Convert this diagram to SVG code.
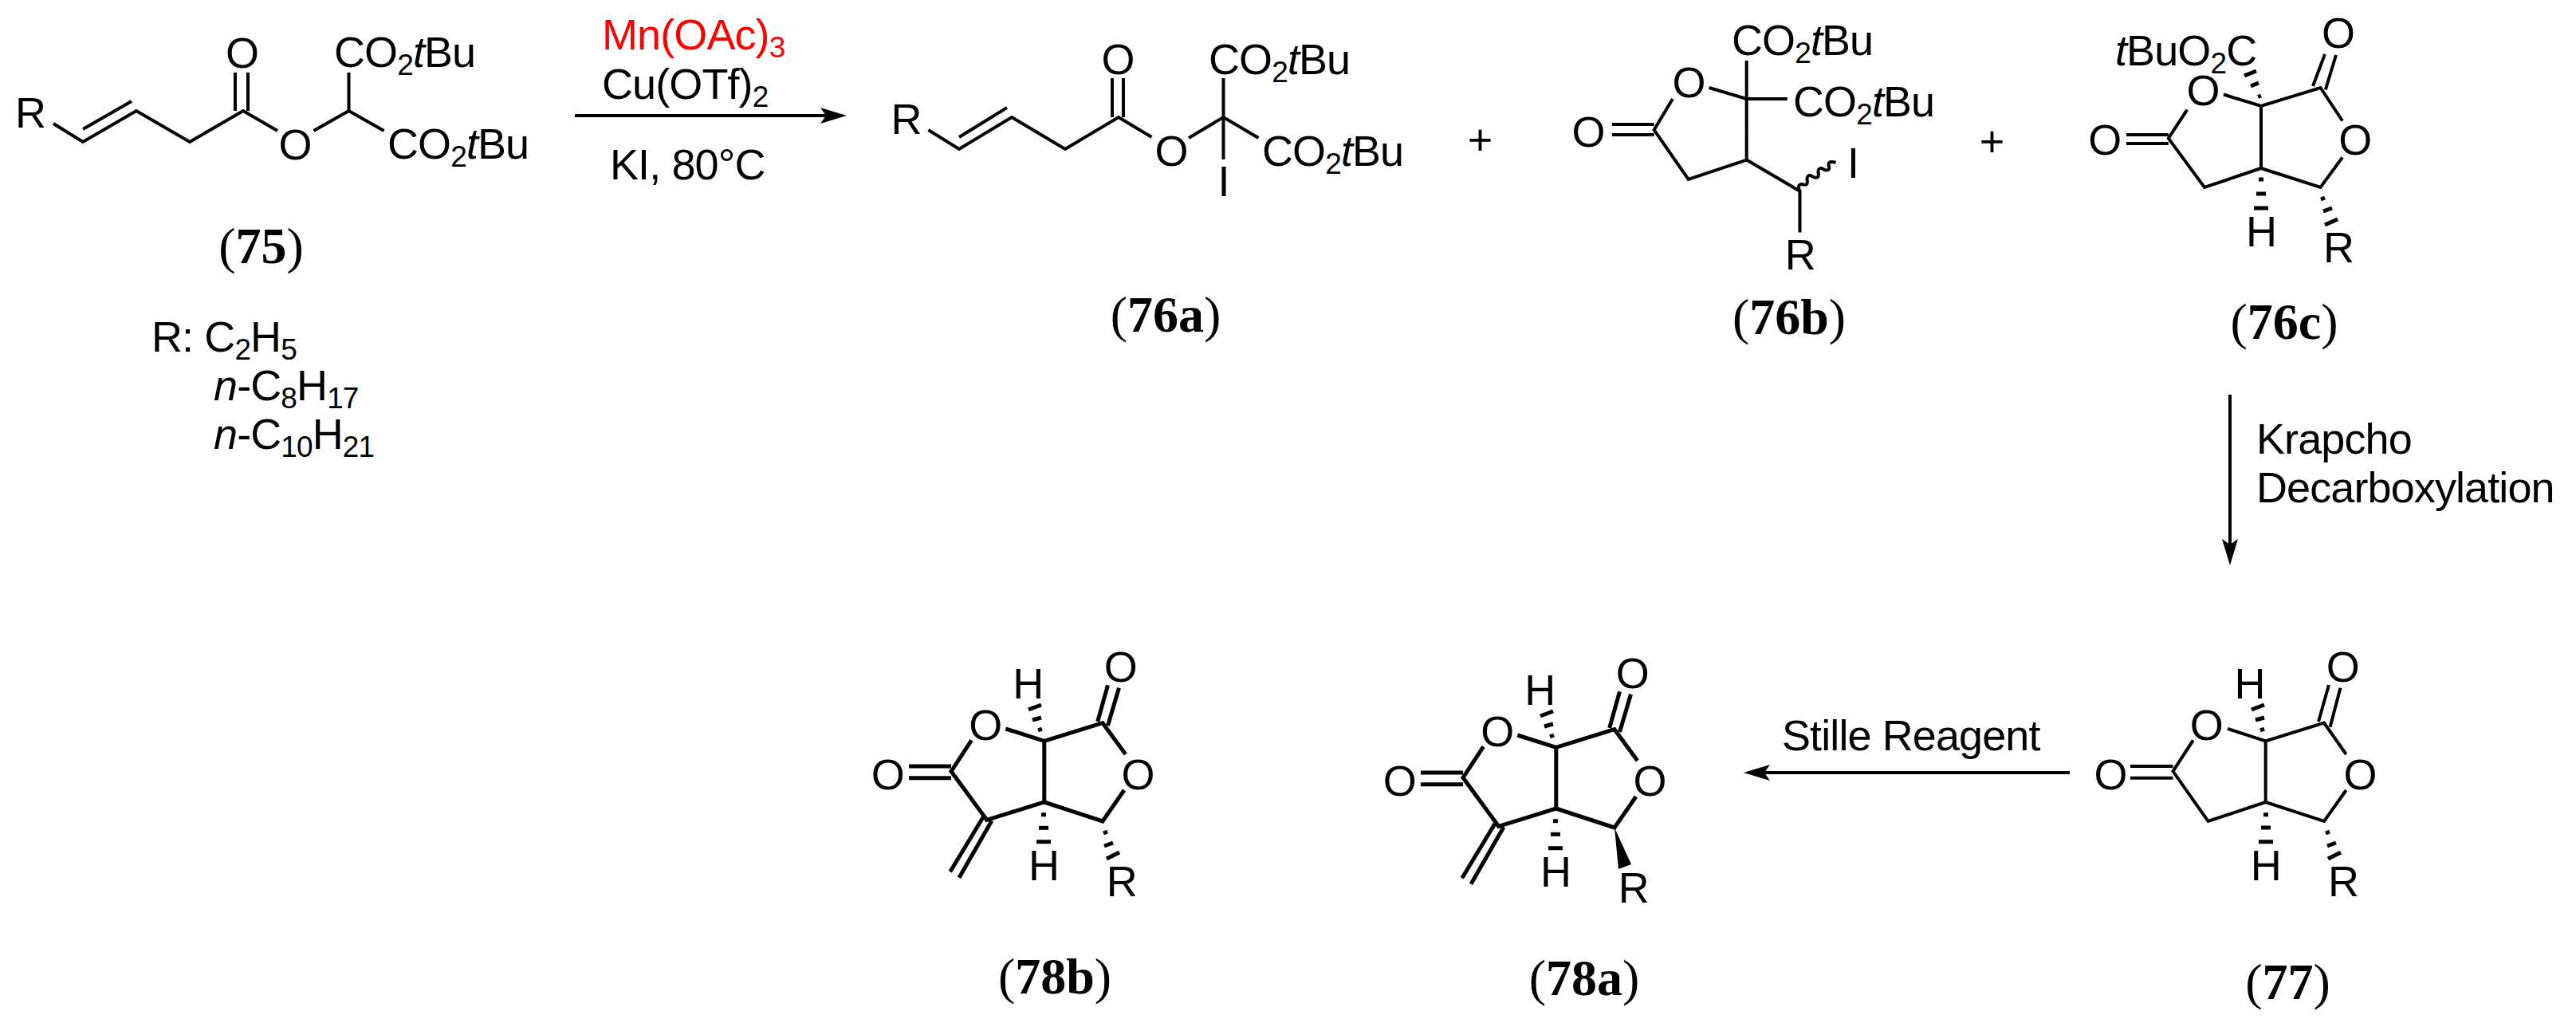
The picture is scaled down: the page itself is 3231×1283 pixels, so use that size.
<svg xmlns="http://www.w3.org/2000/svg" width="3231" height="1283" viewBox="0 0 3231 1283">
<style>
text{font-family:"Liberation Sans",Arial,sans-serif;font-size:54px;letter-spacing:-0.9px;fill:#000}
.m{text-anchor:middle}
.s{font-size:37px}
.i{font-style:italic}
.l{font-family:"Liberation Serif","Times New Roman",serif;font-size:64px;letter-spacing:0;text-anchor:middle}
.b{font-weight:bold}
.red{fill:#f00}
.bond{fill:none;stroke:#000;stroke-width:4;stroke-linejoin:miter;stroke-linecap:butt}
#compound-78a .bond,#compound-78b .bond{stroke-width:5}
.hash{fill:none;stroke:#000;stroke-width:5;stroke-linecap:butt}
.arrow{fill:none;stroke:#000;stroke-width:4;marker-end:url(#head)}
</style>
<defs>
<marker id="head" markerUnits="userSpaceOnUse" markerWidth="33" markerHeight="20" viewBox="0 0 33 20" refX="7" refY="10" orient="auto">
<path d="M33,10 L0,0 L7,10 L0,20 Z" fill="#000"/>
</marker>
</defs>
<rect width="3231" height="1283" fill="#fff"/>

<g id="connectors">
<line class="arrow" x1="721" y1="145" x2="1036" y2="145"/>
<line class="arrow" x1="2797" y1="495" x2="2797" y2="683"/>
<line class="arrow" x1="2596" y1="969" x2="2213" y2="969"/>
</g>

<g id="reagents-top">
<text class="red" x="755" y="62">Mn(OAc)<tspan class="s" dy="10">3</tspan></text>
<text x="755" y="124">Cu(OTf)<tspan class="s" dy="10">2</tspan></text>
<text x="765" y="225">KI, 80°C</text>
</g>
<g id="reagents-krapcho">
<text x="2830" y="569">Krapcho</text>
<text x="2830" y="630">Decarboxylation</text>
</g>
<g id="reagents-stille">
<text x="2235" y="941">Stille Reagent</text>
</g>

<g id="compound-75">
<polyline class="bond" points="67,155 104,178 171,139 238,178 305,139 348,164"/>
<polyline class="bond" points="393.5,164 437.5,139 481.5,164"/>
<line class="bond" x1="437.5" y1="139" x2="437.5" y2="91"/>
<line class="bond" x1="104" y1="162" x2="165" y2="127"/>
<line class="bond" x1="295" y1="139" x2="295" y2="91"/>
<line class="bond" x1="311" y1="139" x2="311" y2="91"/>
<text class="m" x="38" y="160">R</text>
<text class="m" x="303.5" y="85">O</text>
<text class="m" x="370" y="200">O</text>
<text x="419" y="84">CO<tspan class="s" dy="10">2</tspan><tspan class="i" dy="-10">t</tspan>Bu</text>
<text x="486" y="199">CO<tspan class="s" dy="10">2</tspan><tspan class="i" dy="-10">t</tspan>Bu</text>
<text class="l" x="327.5" y="330">(<tspan class="b">75</tspan>)</text>
</g>

<g id="r-groups">
<text x="190" y="441">R: C<tspan class="s" dy="10">2</tspan><tspan dy="-10">H</tspan><tspan class="s" dy="10">5</tspan></text>
<text x="268" y="502"><tspan class="i">n</tspan>-C<tspan class="s" dy="10">8</tspan><tspan dy="-10">H</tspan><tspan class="s" dy="10">17</tspan></text>
<text x="268" y="563"><tspan class="i">n</tspan>-C<tspan class="s" dy="10">10</tspan><tspan dy="-10">H</tspan><tspan class="s" dy="10">21</tspan></text>
</g>

<g id="compound-76a">
<polyline class="bond" points="1164.5,163 1203,187 1269,147 1336,187 1403,147 1444.5,172"/>
<polyline class="bond" points="1491,173 1534.5,147 1578.5,173"/>
<line class="bond" x1="1534.5" y1="98" x2="1534.5" y2="200"/>
<line class="bond" x1="1203" y1="172" x2="1263" y2="135"/>
<line class="bond" x1="1395" y1="147" x2="1395" y2="98"/>
<line class="bond" x1="1409" y1="147" x2="1409" y2="98"/>
<text class="m" x="1136.5" y="168">R</text>
<text class="m" x="1402" y="93">O</text>
<text class="m" x="1469" y="208">O</text>
<text x="1516" y="93">CO<tspan class="s" dy="10">2</tspan><tspan class="i" dy="-10">t</tspan>Bu</text>
<text x="1583" y="208">CO<tspan class="s" dy="10">2</tspan><tspan class="i" dy="-10">t</tspan>Bu</text>
<text class="m" x="1534.5" y="246">I</text>
<text class="l" x="1462" y="416">(<tspan class="b">76a</tspan>)</text>
</g>

<text id="plus-1" class="m" x="1856" y="194">+</text>

<g id="compound-76b">
<polyline class="bond" points="2143.6,110 2190.7,124 2241.8,124"/>
<polyline class="bond" points="2190.7,76 2190.7,200.6 2117.7,225 2074.6,163 2098,124"/>
<polyline class="bond" points="2190.7,200.6 2257.5,239.7 2257.5,291.6"/>
<line class="bond" x1="2074.6" y1="156" x2="2022" y2="156"/>
<line class="bond" x1="2074.6" y1="169" x2="2022" y2="169"/>
<path class="bond" stroke-width="3" d="M2257.5,240 q-4,-9 3,-9 q8,3 6,-6 q0,-8 8,-3 q8,3 6,-6 q0,-8 8,-3 q8,2 5,-6 q0,-6 9,-3"/>
<text class="m" x="1992" y="184">O</text>
<text class="m" x="2118" y="122">O</text>
<text x="2172" y="69">CO<tspan class="s" dy="10">2</tspan><tspan class="i" dy="-10">t</tspan>Bu</text>
<text x="2249" y="146">CO<tspan class="s" dy="10">2</tspan><tspan class="i" dy="-10">t</tspan>Bu</text>
<text class="m" x="2324" y="223">I</text>
<text class="m" x="2257.8" y="337.5">R</text>
<text class="l" x="2244" y="419">(<tspan class="b">76b</tspan>)</text>
</g>

<text id="plus-2" class="m" x="2498" y="196">+</text>

<g id="compound-76c">
<polyline class="bond" points="2789,118.5 2836,133 2910.5,110 2938,151.5"/>
<polyline class="bond" points="2836,133 2836,211 2765,235 2719.8,173.5 2743.3,137.7"/>
<polyline class="bond" points="2836,211 2910.5,235 2938,197.4"/>
<line class="bond" x1="2901" y1="108" x2="2916" y2="68"/>
<line class="bond" x1="2916.8" y1="112.5" x2="2930" y2="69"/>
<line class="bond" x1="2719.8" y1="169" x2="2667" y2="169"/>
<line class="bond" x1="2719.8" y1="180" x2="2667" y2="180"/>
<line class="hash" x1="2832" y1="121.5" x2="2836" y2="120"/>
<line class="hash" x1="2823" y1="108" x2="2833" y2="104"/>
<line class="hash" x1="2815" y1="95" x2="2830" y2="89"/>
<line class="hash" x1="2833" y1="225" x2="2839" y2="225"/>
<line class="hash" x1="2830" y1="243" x2="2842" y2="243"/>
<line class="hash" x1="2827" y1="261" x2="2845" y2="261"/>
<line class="hash" x1="2911" y1="250" x2="2916" y2="248"/>
<line class="hash" x1="2914" y1="265" x2="2925" y2="261"/>
<line class="hash" x1="2916" y1="282" x2="2932" y2="275"/>
<text x="2653" y="82"><tspan class="i">t</tspan>BuO<tspan class="s" dy="10">2</tspan><tspan dy="-10">C</tspan></text>
<text class="m" x="2932.5" y="60">O</text>
<text class="m" x="2763" y="132">O</text>
<text class="m" x="2953.7" y="194">O</text>
<text class="m" x="2639.7" y="194">O</text>
<text class="m" x="2836" y="308.5">H</text>
<text class="m" x="2933" y="329">R</text>
<text class="l" x="2865" y="425">(<tspan class="b">76c</tspan>)</text>
</g>

<g id="compound-77">
<polyline class="bond" points="2794,914 2841.7,929.3 2915,906.7 2942.7,946"/>
<polyline class="bond" points="2841.7,929.3 2841.7,1006 2769.6,1030 2725.5,967.3 2750.8,928.3"/>
<polyline class="bond" points="2841.7,1006 2915,1030 2942.7,991"/>
<line class="bond" x1="2908" y1="905" x2="2921" y2="859"/>
<line class="bond" x1="2922.6" y1="911.7" x2="2935.5" y2="862.7"/>
<line class="bond" x1="2725.5" y1="961" x2="2672" y2="961"/>
<line class="bond" x1="2725.5" y1="975.7" x2="2672" y2="975.7"/>
<line class="hash" x1="2835" y1="916" x2="2840" y2="914"/>
<line class="hash" x1="2829" y1="903" x2="2840" y2="900"/>
<line class="hash" x1="2824" y1="890" x2="2840" y2="884"/>
<line class="hash" x1="2839" y1="1021.7" x2="2845" y2="1021.7"/>
<line class="hash" x1="2836" y1="1038" x2="2848" y2="1038"/>
<line class="hash" x1="2833" y1="1055.7" x2="2851" y2="1055.7"/>
<line class="hash" x1="2917" y1="1045" x2="2922" y2="1043"/>
<line class="hash" x1="2919" y1="1061" x2="2930" y2="1057"/>
<line class="hash" x1="2920" y1="1077" x2="2936" y2="1069"/>
<text class="m" x="2938.4" y="855">O</text>
<text class="m" x="2767.4" y="928">O</text>
<text class="m" x="2960" y="990">O</text>
<text class="m" x="2647" y="990">O</text>
<text class="m" x="2821.5" y="876">H</text>
<text class="m" x="2841.7" y="1104">H</text>
<text class="m" x="2939" y="1124">R</text>
<text class="l" x="2869.5" y="1253">(<tspan class="b">77</tspan>)</text>
</g>

<g id="compound-78b">
<polyline class="bond" points="1261.3,914 1309.8,929.3 1383,906.7 1411.8,946"/>
<polyline class="bond" points="1309.8,929.3 1309.8,1006 1237.7,1028.3 1193,967.3 1218.6,928.3"/>
<polyline class="bond" points="1309.8,1006 1383,1030 1410,991"/>
<line class="bond" x1="1233" y1="1025" x2="1191.8" y2="1093.3"/>
<line class="bond" x1="1244" y1="1029.3" x2="1203" y2="1100.7"/>
<line class="bond" x1="1376.7" y1="905" x2="1389.5" y2="859.3"/>
<line class="bond" x1="1389.5" y1="910" x2="1403.5" y2="862.7"/>
<line class="bond" x1="1193" y1="961" x2="1140" y2="961"/>
<line class="bond" x1="1193" y1="975.7" x2="1140" y2="975.7"/>
<line class="hash" x1="1302" y1="916" x2="1307" y2="914"/>
<line class="hash" x1="1295" y1="903" x2="1306" y2="900"/>
<line class="hash" x1="1290" y1="890" x2="1306" y2="884"/>
<line class="hash" x1="1306" y1="1021.7" x2="1312" y2="1021.7"/>
<line class="hash" x1="1303" y1="1038.3" x2="1315" y2="1038.3"/>
<line class="hash" x1="1300" y1="1055.7" x2="1318" y2="1055.7"/>
<line class="hash" x1="1384" y1="1045" x2="1389" y2="1043"/>
<line class="hash" x1="1385" y1="1061" x2="1396" y2="1057"/>
<line class="hash" x1="1388" y1="1077" x2="1404" y2="1069"/>
<text class="m" x="1405.4" y="855">O</text>
<text class="m" x="1235.8" y="928">O</text>
<text class="m" x="1427" y="990">O</text>
<text class="m" x="1113.3" y="990">O</text>
<text class="m" x="1289.4" y="876">H</text>
<text class="m" x="1309" y="1104">H</text>
<text class="m" x="1406.7" y="1124">R</text>
<text class="l" x="1323" y="1246">(<tspan class="b">78b</tspan>)</text>
</g>

<g id="compound-78a" transform="translate(642,8)">
<polyline class="bond" points="1261.3,914 1309.8,929.3 1383,906.7 1411.8,946"/>
<polyline class="bond" points="1309.8,929.3 1309.8,1006 1237.7,1028.3 1193,967.3 1218.6,928.3"/>
<polyline class="bond" points="1309.8,1006 1383,1030 1410,991"/>
<line class="bond" x1="1233" y1="1025" x2="1191.8" y2="1093.3"/>
<line class="bond" x1="1244" y1="1029.3" x2="1203" y2="1100.7"/>
<line class="bond" x1="1376.7" y1="905" x2="1389.5" y2="859.3"/>
<line class="bond" x1="1389.5" y1="910" x2="1403.5" y2="862.7"/>
<line class="bond" x1="1193" y1="961" x2="1140" y2="961"/>
<line class="bond" x1="1193" y1="975.7" x2="1140" y2="975.7"/>
<line class="hash" x1="1302" y1="916" x2="1307" y2="914"/>
<line class="hash" x1="1295" y1="903" x2="1306" y2="900"/>
<line class="hash" x1="1290" y1="890" x2="1306" y2="884"/>
<line class="hash" x1="1306" y1="1021.7" x2="1312" y2="1021.7"/>
<line class="hash" x1="1303" y1="1038.3" x2="1315" y2="1038.3"/>
<line class="hash" x1="1300" y1="1055.7" x2="1318" y2="1055.7"/>
<path d="M1383,1030 L1388,1082 L1404,1076 Z" fill="#000"/>
<text class="m" x="1405.4" y="855">O</text>
<text class="m" x="1235.8" y="928">O</text>
<text class="m" x="1427" y="990">O</text>
<text class="m" x="1113.3" y="990">O</text>
<text class="m" x="1289.4" y="876">H</text>
<text class="m" x="1309" y="1104">H</text>
<text class="m" x="1406.7" y="1124">R</text>
<text class="l" x="1345" y="1240">(<tspan class="b">78a</tspan>)</text>
</g>
</svg>
